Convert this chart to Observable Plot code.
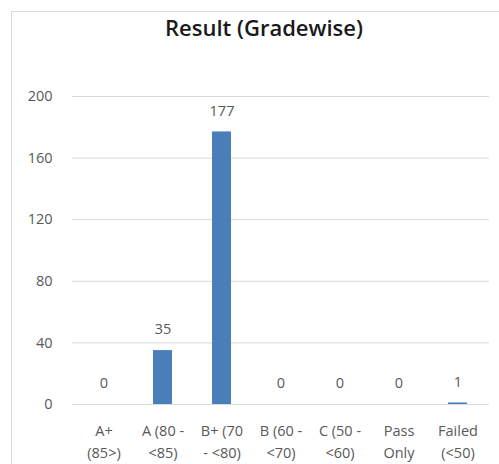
<!DOCTYPE html>
<html>
<head>
<meta charset="utf-8">
<script src="https://cdn.jsdelivr.net/npm/d3@7"></script>
<script src="https://cdn.jsdelivr.net/npm/@observablehq/plot@0.6"></script>
<style>
  html, body { margin: 0; padding: 0; background: #fff; overflow: hidden; }
  #wrap { position: relative; width: 499px; height: 464px; }
  #frame { position: absolute; left: 11px; top: 11px; width: 520px; height: 520px; border: 1px solid #d9d9d9; box-sizing: border-box; }
  #title { position: absolute; left: 64px; width: 400px; top: 12px; text-align: center;
           font-family: "Open Sans", Roboto, sans-serif; font-weight: 600; font-size: 22px; color: #1a1a1a; }
  #chart { position: absolute; left: 0; top: 0; }
</style>
</head>
<body>
<div id="wrap">
  <div id="frame"></div>
  <div id="chart"></div>
  <div id="title">Result (Gradewise)</div>
</div>
<script>
const categories = ["A+\n(85>)", "A (80 -\n<85)", "B+ (70\n- <80)", "B (60 -\n<70)", "C (50 -\n<60)", "Pass\nOnly", "Failed\n(<50)"];
const counts = [0, 35, 177, 0, 0, 0, 1];
const yTicks = [0, 40, 80, 120, 160, 200];

const data = categories.map((c, i) => ({grade: c, count: counts[i]}));
const font = "'Open Sans', Roboto, sans-serif";

const chart = Plot.plot({
  width: 499,
  height: 464,
  marginTop: 96,
  marginBottom: 60,
  marginLeft: 72,
  marginRight: 10,
  style: {fontFamily: font, fontSize: "14px", color: "#595959", background: "transparent", overflow: "visible"},
  x: {domain: categories, paddingInner: 0.68, paddingOuter: 0.34, label: null},
  y: {domain: [0, 200], label: null},
  marks: [
    Plot.ruleY(yTicks, {stroke: "#d9d9d9", strokeWidth: 1}),
    Plot.barY(data, {x: "grade", y: "count", fill: "#4a7ebb"}),
    Plot.text(data, {x: "grade", y: "count", text: d => String(d.count), dy: -21, fill: "#595959", fontSize: 14.5}),
    Plot.axisY(yTicks, {tickSize: 0, tickPadding: 20, label: null, fontSize: 14.5, fill: "#595959"}),
    Plot.axisX({tickSize: 0, tickPadding: 16, label: null, fontSize: 14.5, fill: "#595959", lineHeight: 1.5})
  ]
});
document.getElementById("chart").appendChild(chart);
</script>
</body>
</html>
